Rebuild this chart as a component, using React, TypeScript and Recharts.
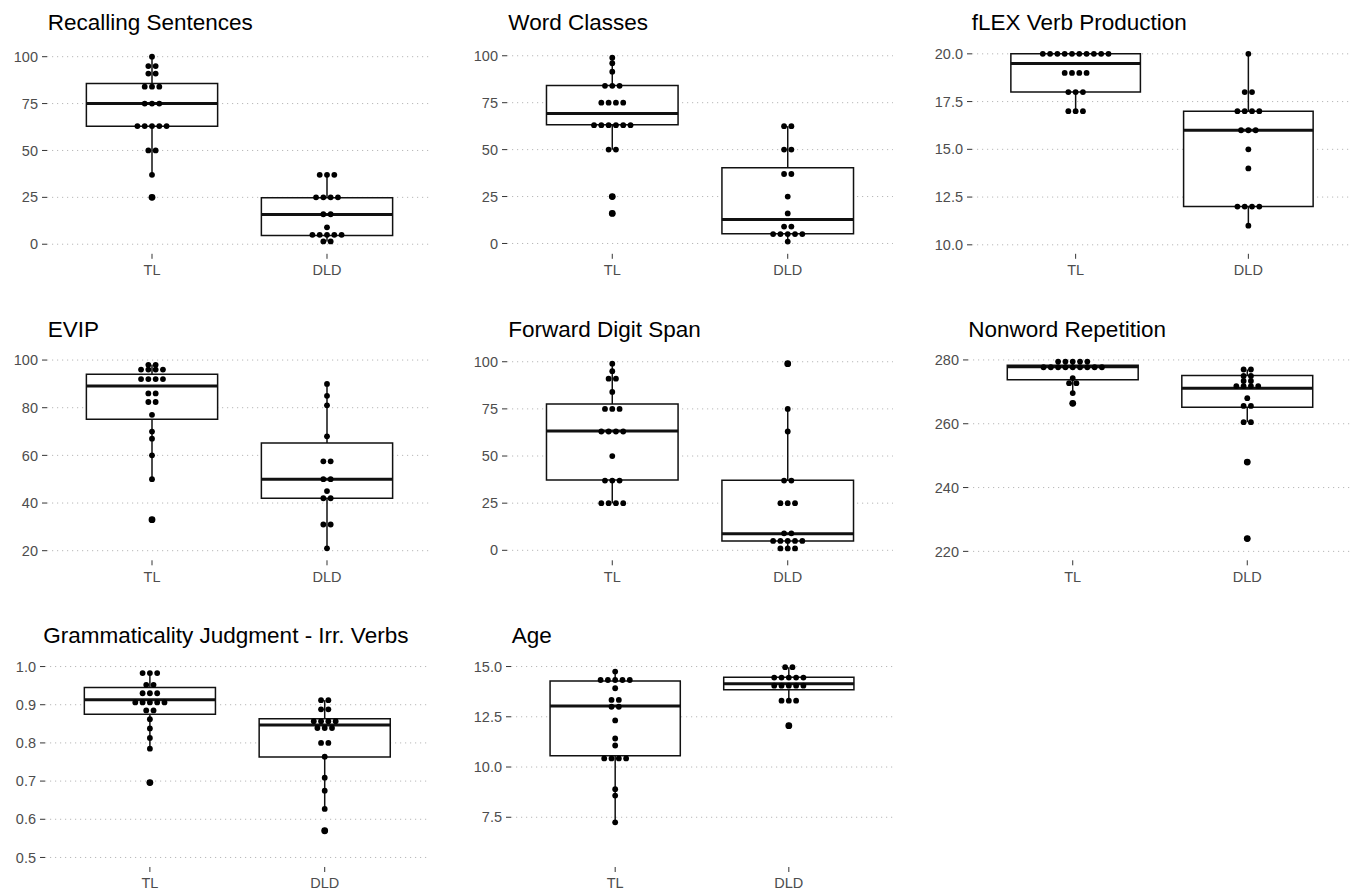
import React from 'react';
import {
  ComposedChart,
  XAxis,
  YAxis,
  CartesianGrid,
  Scatter,
  ReferenceArea,
  ReferenceLine,
} from 'recharts';

// ---------- data ----------
const groups = ['TL', 'DLD'];

// box stats: [lower whisker, Q1, median, Q3, upper whisker]
const recallingTL = [100, 95, 95, 91, 91, 84, 84, 84, 75, 75, 75, 63, 63, 63, 63, 63, 50, 50, 37, 25];
const recallingDLD = [37, 37, 37, 25, 25, 25, 25, 16, 16, 9, 5, 5, 5, 5, 5, 1.5, 1.5];
const recallingTLBox = [37, 62.9, 75, 85.7, 100];
const recallingDLDBox = [1.5, 4.6, 15.9, 24.8, 37];

const wordTL = [99, 96, 91.5, 84, 84, 84, 75, 75, 75, 75, 63, 63, 63, 63, 63, 63, 50, 50, 25, 16];
const wordDLD = [62.5, 62.5, 50, 50, 37, 37, 25, 16, 9, 9, 5, 5, 5, 5, 5, 1];
const wordTLBox = [50, 63.2, 69.3, 84.2, 99];
const wordDLDBox = [1, 5.2, 12.8, 40.3, 62.5];

const flexTL = [20, 20, 20, 20, 20, 20, 20, 20, 20, 20, 19, 19, 19, 19, 18, 18, 18, 17, 17, 17];
const flexDLD = [20, 18, 18, 17, 17, 17, 17, 16, 16, 16, 15, 14, 12, 12, 12, 12, 11];
const flexTLBox = [17, 18, 19.5, 20, 20];
const flexDLDBox = [11, 12, 16, 17, 20];

const evipTL = [98, 98, 96, 96, 96, 96, 92, 92, 92, 92, 86, 86, 82.4, 82.4, 77, 70, 67, 60, 50, 33];
const evipDLD = [90, 85, 81, 68, 57.5, 57.5, 50, 50, 45, 42, 42, 31, 31, 21];
const evipTLBox = [50, 75.2, 89.1, 94, 98];
const evipDLDBox = [21, 42, 50, 65.2, 90];

const digitTL = [99, 95, 91, 91, 84, 75, 75, 75, 63, 63, 63, 63, 50, 37, 37, 37, 25, 25, 25, 25];
const digitDLD = [99, 75, 63, 37, 37, 25, 25, 25, 9, 9, 5, 5, 5, 5, 5, 1, 1, 1];
const digitTLBox = [25, 37.3, 63.3, 77.6, 99];
const digitDLDBox = [1, 4.9, 8.8, 37.1, 75];

const nonwordTL = [279.5, 279.5, 279.5, 279.5, 279.5, 277.7, 277.7, 277.7, 277.7, 277.7, 277.7, 277.7, 277.7, 277.7, 274.3, 272.7, 272.7, 269.6, 266.4];
const nonwordDLD = [277, 277, 275, 275, 273.4, 273.4, 271.8, 271.8, 271.8, 271.8, 268, 265.6, 265.6, 260.5, 260.5, 248, 224];
const nonwordTLBox = [269.6, 273.8, 277.9, 278.3, 279.5];
const nonwordDLDBox = [260.5, 265.2, 271.1, 275.1, 277];

const gramTL = [0.983, 0.983, 0.983, 0.952, 0.952, 0.93, 0.93, 0.93, 0.906, 0.906, 0.906, 0.906, 0.906, 0.885, 0.885, 0.862, 0.838, 0.813, 0.785, 0.696];
const gramDLD = [0.912, 0.912, 0.888, 0.888, 0.857, 0.857, 0.857, 0.857, 0.839, 0.839, 0.839, 0.8, 0.8, 0.764, 0.709, 0.675, 0.627, 0.57];
const gramTLBox = [0.785, 0.875, 0.913, 0.945, 0.983];
const gramDLDBox = [0.627, 0.763, 0.847, 0.863, 0.912];

const ageTL = [14.75, 14.33, 14.33, 14.33, 14.33, 14.33, 13.92, 13.34, 13.34, 13.0, 13.0, 12.32, 11.42, 11.07, 10.43, 10.43, 10.43, 10.43, 8.9, 8.58, 7.25];
const ageDLD = [14.97, 14.97, 14.45, 14.45, 14.45, 14.45, 14.45, 14.05, 14.05, 14.05, 14.05, 14.05, 13.3, 13.3, 13.3, 12.06];
const ageTLBox = [7.25, 10.56, 13.04, 14.28, 14.75];
const ageDLDBox = [13.3, 13.85, 14.14, 14.47, 14.97];

const pctTicks = [0, 25, 50, 75, 100];
const flexTicks = [10, 12.5, 15, 17.5, 20];
const evipTicks = [20, 40, 60, 80, 100];
const nonwordTicks = [220, 240, 260, 280];
const gramTicks = [0.5, 0.6, 0.7, 0.8, 0.9, 1.0];
const ageTicks = [7.5, 10, 12.5, 15];

// ---------- layout ----------
const FONT = '"Liberation Sans", Arial, Helvetica, sans-serif';
const rowTop = [45.5, 351, 657.2];
const rowBottom = [253.3, 560.3, 867.2];
const titleBaseline = [30, 336.5, 642.5];

type Panel = {
  title: string;
  tl: number[];
  dld: number[];
  tlBox: number[];
  dldBox: number[];
  ticks: number[];
  domain: [number, number];
  decimals: boolean;
  row: number;
  plotLeft: number;
  plotWidth: number;
  titleX: number;
};

const panels: Panel[] = [
  { title: 'Recalling Sentences', tl: recallingTL, dld: recallingDLD, tlBox: recallingTLBox, dldBox: recallingDLDBox, ticks: pctTicks, domain: [-5.1, 105.7], decimals: false, row: 0, plotLeft: 46.7, plotWidth: 385, titleX: 47.7 },
  { title: 'Word Classes', tl: wordTL, dld: wordDLD, tlBox: wordTLBox, dldBox: wordDLDBox, ticks: pctTicks, domain: [-5.5, 105.2], decimals: false, row: 0, plotLeft: 506.5, plotWidth: 386, titleX: 508.3 },
  { title: 'fLEX Verb Production', tl: flexTL, dld: flexDLD, tlBox: flexTLBox, dldBox: flexDLDBox, ticks: flexTicks, domain: [9.53, 20.41], decimals: true, row: 0, plotLeft: 972.2, plotWidth: 380, titleX: 971.7 },
  { title: 'EVIP', tl: evipTL, dld: evipDLD, tlBox: evipTLBox, dldBox: evipDLDBox, ticks: evipTicks, domain: [15.97, 103.8], decimals: false, row: 1, plotLeft: 46.7, plotWidth: 385, titleX: 47.7 },
  { title: 'Forward Digit Span', tl: digitTL, dld: digitDLD, tlBox: digitTLBox, dldBox: digitDLDBox, ticks: pctTicks, domain: [-5.3, 105.7], decimals: false, row: 1, plotLeft: 506.5, plotWidth: 386, titleX: 508.3 },
  { title: 'Nonword Repetition', tl: nonwordTL, dld: nonwordDLD, tlBox: nonwordTLBox, dldBox: nonwordDLDBox, ticks: nonwordTicks, domain: [217.2, 282.8], decimals: false, row: 1, plotLeft: 968.3, plotWidth: 384, titleX: 968.3 },
  { title: 'Grammaticality Judgment - Irr. Verbs', tl: gramTL, dld: gramDLD, tlBox: gramTLBox, dldBox: gramDLDBox, ticks: gramTicks, domain: [0.475, 1.025], decimals: true, row: 2, plotLeft: 45.3, plotWidth: 384.6, titleX: 43.3 },
  { title: 'Age', tl: ageTL, dld: ageDLD, tlBox: ageTLBox, dldBox: ageDLDBox, ticks: ageTicks, domain: [5.025, 15.475], decimals: true, row: 2, plotLeft: 510.8, plotWidth: 382, titleX: 511.7 },
];

function stackDots(values: number[], center: number, dx: number) {
  const counts = new Map<number, number>();
  values.forEach((v) => counts.set(v, (counts.get(v) || 0) + 1));
  const out: { x: number; y: number }[] = [];
  counts.forEach((n, v) => {
    for (let k = 0; k < n; k++) out.push({ x: center + (k - (n - 1) / 2) * dx, y: v });
  });
  return out;
}

function outliersOf(values: number[], box: number[], center: number) {
  return values.filter((v) => v < box[0] - 1e-9 || v > box[4] + 1e-9).map((v) => ({ x: center, y: v }));
}

const dotShape = (props: any) => <circle cx={props.cx} cy={props.cy} r={2.9} fill="#000" />;
const outlierShape = (props: any) => <circle cx={props.cx} cy={props.cy} r={3.4} fill="#000" />;

const LINE = '#111';
const HALF = 0.375;

function BoxElements(center: number, box: number[], key: string) {
  const [lo, q1, med, q3, hi] = box;
  return [
    <ReferenceLine key={key + 'wl'} segment={[{ x: center, y: lo }, { x: center, y: q1 }]} stroke={LINE} strokeWidth={1.5} ifOverflow="visible" />,
    <ReferenceLine key={key + 'wh'} segment={[{ x: center, y: q3 }, { x: center, y: hi }]} stroke={LINE} strokeWidth={1.5} ifOverflow="visible" />,
    <ReferenceArea key={key + 'box'} x1={center - HALF} x2={center + HALF} y1={q1} y2={q3} fill="#fff" fillOpacity={1} stroke={LINE} strokeWidth={1.5} ifOverflow="visible" />,
    <ReferenceLine key={key + 'med'} segment={[{ x: center - HALF, y: med }, { x: center + HALF, y: med }]} stroke={LINE} strokeWidth={3} ifOverflow="visible" />,
  ];
}

const Y_W = 46;
const M_TOP = 8;
const X_H = 26;

function BoxPanel({ p }: { p: Panel }) {
  const top = rowTop[p.row];
  const bottom = rowBottom[p.row];
  const width = Y_W + p.plotWidth + 2;
  const height = M_TOP + (bottom - top) + X_H;
  const dx = (7.3 * 2.2) / p.plotWidth;
  const dots = [...stackDots(p.tl, 1, dx), ...stackDots(p.dld, 2, dx)];
  const outs = [...outliersOf(p.tl, p.tlBox, 1), ...outliersOf(p.dld, p.dldBox, 2)];
  const tickStyle = { fill: '#4d4d4d', fontSize: 14.5, fontFamily: FONT };
  return (
    <div style={{ position: 'absolute', left: p.plotLeft - Y_W, top: top - M_TOP }}>
      <ComposedChart width={width} height={height} margin={{ top: M_TOP, right: 2, bottom: 0, left: 0 }}>
        <CartesianGrid vertical={false} syncWithTicks stroke="#b8b8b8" strokeDasharray="1.2 3.8" strokeWidth={1} />
        <XAxis
          type="number"
          dataKey="x"
          domain={[0.4, 2.6]}
          ticks={[1, 2]}
          allowDataOverflow
          tickFormatter={(v: number) => groups[Math.round(v) - 1]}
          axisLine={false}
          tickLine={{ stroke: '#333' }}
          tickSize={5}
          tickMargin={6}
          height={X_H}
          tick={tickStyle}
        />
        <YAxis
          type="number"
          dataKey="y"
          domain={p.domain}
          ticks={p.ticks}
          allowDataOverflow
          width={Y_W}
          axisLine={false}
          tickLine={{ stroke: '#333' }}
          tickSize={5}
          tickMargin={4}
          tick={tickStyle}
          tickFormatter={(v: number) => (p.decimals ? v.toFixed(1) : String(v))}
        />
        {BoxElements(1, p.tlBox, 'tl')}
        {BoxElements(2, p.dldBox, 'dld')}
        <Scatter data={dots} isAnimationActive={false} shape={dotShape} />
        <Scatter data={outs} isAnimationActive={false} shape={outlierShape} />
      </ComposedChart>
    </div>
  );
}

export default function App() {
  return (
    <div
      style={{
        position: 'absolute',
        left: 0,
        top: 0,
        width: 1356,
        height: 891,
        overflow: 'hidden',
        background: '#fff',
        fontFamily: FONT,
      }}
    >
      {panels.map((p) => (
        <BoxPanel key={p.title} p={p} />
      ))}
      <svg width={1356} height={891} style={{ position: 'absolute', left: 0, top: 0, pointerEvents: 'none' }}>
        {panels.map((p) => (
          <text key={p.title} x={p.titleX} y={titleBaseline[p.row]} fontFamily={FONT} fontSize={22.5} fill="#000">
            {p.title}
          </text>
        ))}
      </svg>
    </div>
  );
}
